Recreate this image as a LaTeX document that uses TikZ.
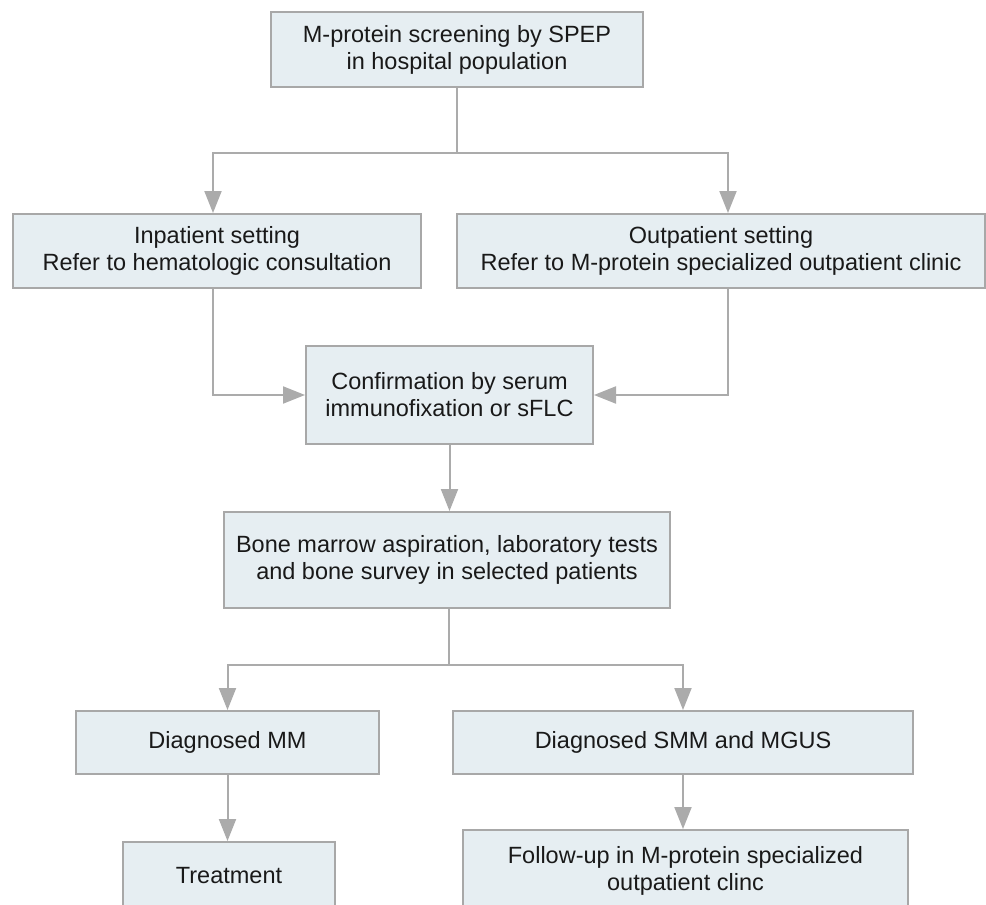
\documentclass[tikz,border=0pt]{standalone}
\usepackage{fontspec}
\setmainfont{Liberation Sans}
\usetikzlibrary{arrows.meta}
\definecolor{boxfill}{HTML}{E6EEF2}
\definecolor{boxline}{HTML}{A8A8A8}
\definecolor{linegray}{HTML}{ABABAB}
\begin{document}
\begin{tikzpicture}[x=1pt,y=-1pt,
  flowbox/.style={draw=boxline, line width=2pt, fill=boxfill, inner sep=0pt,
    align=center, text=black!90, font=\fontsize{23.5}{27}\selectfont},
  conn/.style={draw=linegray, line width=2pt},
  arr/.style={conn, -{Triangle[length=22pt,width=17pt]}}
]
\useasboundingbox (0,0) rectangle (986,905);
\clip (0,0) rectangle (986,905);
\fill[white] (0,0) rectangle (986,905);

\node[flowbox, minimum width=372pt, minimum height=75pt] (top) at (457,49.5)
  {M-protein screening by SPEP\\in hospital population};
\node[flowbox, minimum width=408pt, minimum height=74pt] (inp) at (217,251)
  {Inpatient setting\\Refer to hematologic consultation};
\node[flowbox, minimum width=528pt, minimum height=74pt] (outp) at (721,251)
  {Outpatient setting\\Refer to M-protein specialized outpatient clinic};
\node[flowbox, minimum width=287pt, minimum height=98pt] (conf) at (449.5,395)
  {Confirmation by serum\\immunofixation or sFLC};
\node[flowbox, minimum width=446pt, minimum height=96pt] (bone) at (447,560)
  {Bone marrow aspiration, laboratory tests\\and bone survey in selected patients};
\node[flowbox, minimum width=303pt, minimum height=63pt] (mm) at (227.5,742.5)
  {Diagnosed MM};
\node[flowbox, minimum width=460pt, minimum height=63pt] (smm) at (683,742.5)
  {Diagnosed SMM and MGUS};
\node[flowbox, minimum width=212pt, minimum height=68pt] (treat) at (229,876)
  {Treatment};
\node[flowbox, minimum width=445pt, minimum height=82pt] (follow) at (685.5,871)
  {Follow-up in M-protein specialized\\outpatient clinc};

\coordinate (j1) at (457,153);
\coordinate (c1) at (213,153);
\coordinate (c2) at (728,153);
\coordinate (j2) at (449,665);

\draw[conn] (top.south) -- (j1);
\draw[arr] (j1) -- (c1) -- (c1 |- inp.north);
\draw[arr] (j1) -- (c2) -- (c2 |- outp.north);
\draw[arr] (c1 |- inp.south) |- (conf.west);
\draw[arr] (c2 |- outp.south) |- (conf.east);
\draw[arr] (conf.south) -- (conf.south |- bone.north);
\draw[conn] (bone.south -| j2) -- (j2);
\draw[arr] (j2) -| (mm.north);
\draw[arr] (j2) -| (smm.north);
\draw[arr] (mm.south) -- (mm.south |- treat.north);
\draw[arr] (smm.south) -- (smm.south |- follow.north);
\end{tikzpicture}
\end{document}
